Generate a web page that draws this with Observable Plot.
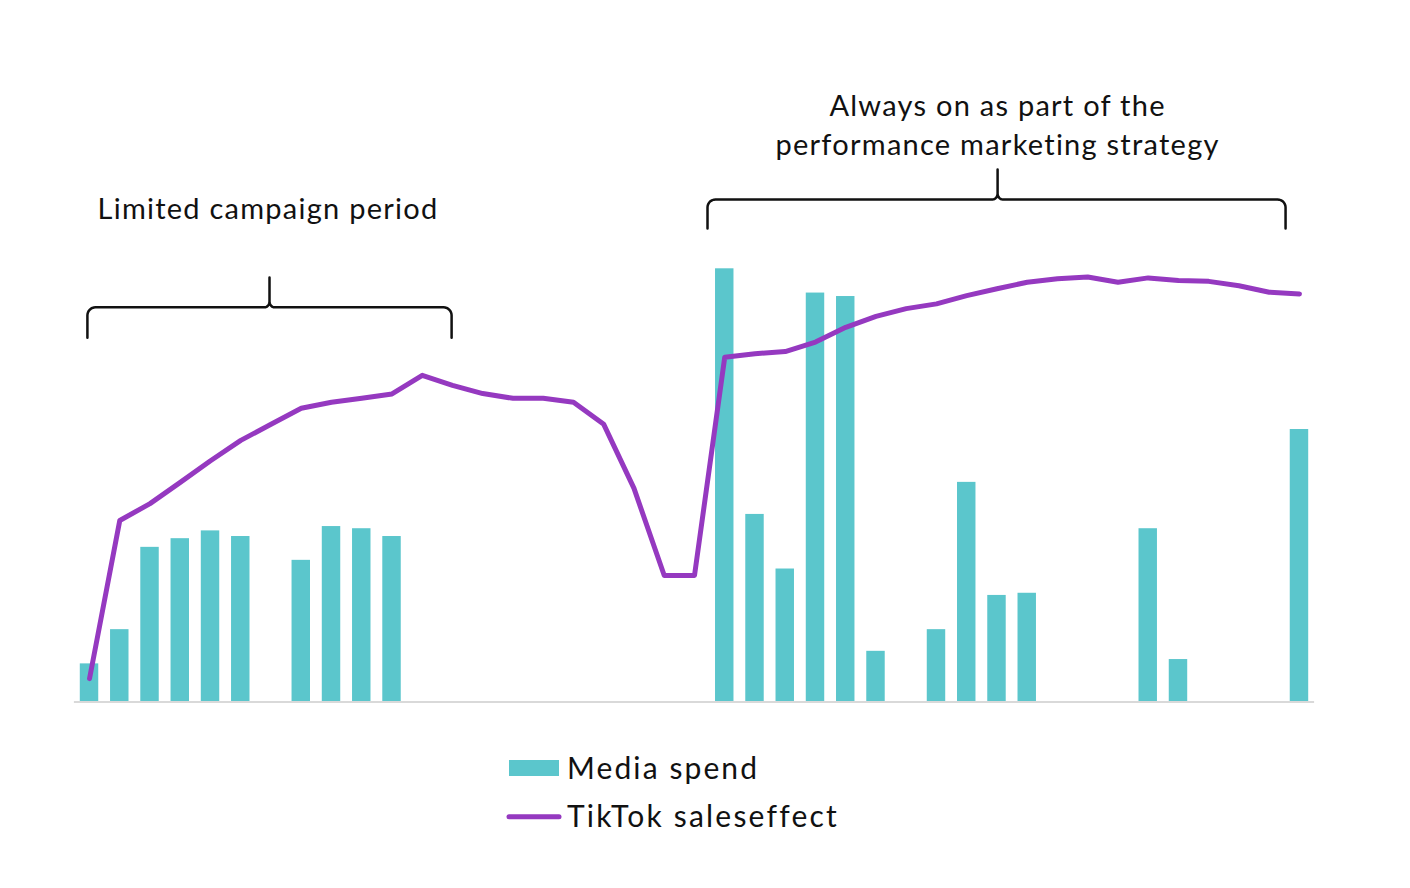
<!DOCTYPE html>
<html><head><meta charset="utf-8">
<script src="https://cdn.jsdelivr.net/npm/d3@7"></script>
<script src="https://cdn.jsdelivr.net/npm/@observablehq/plot@0.6"></script>
<style>
body{margin:0;background:#fff;font-family:Lato, "Open Sans", sans-serif;}
#wrap{position:relative;width:1410px;height:888px;overflow:hidden;}
#chart{position:absolute;left:0;top:0;}
#legend{position:absolute;left:0;top:740px;}
</style></head><body>
<div id="wrap"><div id="chart"></div><div id="legend"></div></div>
<script>
// ---- data (arbitrary units, tallest bar = 100) ----
const periods = d3.range(41);
const mediaSpend = [
  8.8, 16.7, 35.7, 37.7, 39.5, 38.2, 0, 32.7, 40.5, 40.0, 38.2,
  0, 0, 0, 0, 0, 0, 0, 0, 0, 0,
  100, 43.3, 30.7, 94.4, 93.6, 11.7, 0, 16.7, 50.7, 24.6, 25.1,
  0, 0, 0, 40.0, 9.8, 0, 0, 0, 62.9
];
const salesEffect = [
  5.4, 41.9, 45.8, 50.7, 55.7, 60.4, 64.1, 67.8, 69.2, 70.1, 71.1,
  75.4, 73.1, 71.2, 70.1, 70.1, 69.2, 64.1, 49.3, 29.2, 29.2,
  79.6, 80.4, 80.9, 83.1, 86.5, 89.0, 90.8, 91.9, 93.8, 95.4, 96.9,
  97.7, 98.1, 96.9, 97.9, 97.3, 97.1, 96.1, 94.6, 94.2
];
const seriesNames = ["Media spend", "TikTok saleseffect"];
// annotations: bracket spans in period units, labels
const bracketStart = [-0.07, 20.43];
const bracketEnd = [11.97, 39.54];
const bracketMid = [5.95, 30.02];
const bracketLevel = [91.1, 116.0];
const bracketTip = [84.1, 109.3];
const bracketPeak = [98.0, 122.9];
const labelLines = [["Limited campaign period"], ["Always on as part of the", "performance marketing strategy"]];
const labelX = [5.9, 30.02];
const labelY = [[113.6], [137.3], [128.5]].length ? [[113.6], [137.3, 128.5]] : [];

// ---- styles ----
const TEAL = "#5bc6cc", PURPLE = "#9539c0", FONT = "Lato, 'Open Sans', sans-serif";
const W = 1410, H = 740;
const xDomain = [-0.5, 40.5], xRange = [73.9, 1314.1];
const yDomain = [0, 160], yRange = [701.5, 701.5 - 160 * 4.332];
const kx = (xRange[1] - xRange[0]) / (xDomain[1] - xDomain[0]);
const ky = (yRange[0] - yRange[1]) / (yDomain[1] - yDomain[0]);

const bars = periods.map(i => ({i, v: mediaSpend[i]})).filter(d => d.v > 0);
const line = periods.map(i => ({i, v: salesEffect[i]}));

function arc(cx, cy, rx, ry, a0, a1, n = 8) {
  return d3.range(n + 1).map(k => {
    const a = a0 + (a1 - a0) * k / n;
    return [cx + rx * Math.cos(a), cy + ry * Math.sin(a)];
  });
}
const bracePts = [];
bracketStart.forEach((x0, b) => {
  const x1 = bracketEnd[b], xm = bracketMid[b], yH = bracketLevel[b];
  const rx = 8 / kx, ry = 8 / ky, mrx = 5 / kx, mry = 6 / ky;
  const pts = [
    [x0, bracketTip[b]],
    ...arc(x0 + rx, yH - ry, rx, ry, Math.PI, Math.PI / 2),
    ...arc(xm - mrx, yH + mry, mrx, mry, -Math.PI / 2, 0),
    [xm, bracketPeak[b]],
    ...arc(xm + mrx, yH + mry, mrx, mry, Math.PI, 3 * Math.PI / 2),
    ...arc(x1 - rx, yH - ry, rx, ry, Math.PI / 2, 0),
    [x1, bracketTip[b]]
  ];
  pts.forEach(([x, y]) => bracePts.push({b, x, y}));
});
const labels = [];
labelLines.forEach((ls, b) => ls.forEach((t, j) => labels.push({t, x: labelX[b], y: labelY[b][j]})));

const chart = Plot.plot({
  width: W, height: H,
  marginTop: 0, marginBottom: 0, marginLeft: 0, marginRight: 0,
  x: {domain: xDomain, range: xRange, axis: null},
  y: {domain: yDomain, range: yRange, axis: null},
  style: {fontFamily: FONT, background: "#fff", overflow: "visible", letterSpacing: "1.25px"},
  marks: [
    Plot.rectY(bars, {x1: d => d.i - 0.305, x2: d => d.i + 0.305, y1: 0, y2: "v", fill: TEAL}),
    Plot.ruleY([0], {x1: xDomain[0], x2: xDomain[1], stroke: "#d9d9d9", strokeWidth: 2}),
    Plot.line(line, {x: "i", y: "v", stroke: PURPLE, strokeWidth: 5, strokeLinejoin: "round", strokeLinecap: "round"}),
    Plot.line(bracePts, {x: "x", y: "y", z: "b", stroke: "#111", strokeWidth: 2.5, strokeLinejoin: "round", curve: "linear"}),
    Plot.text(labels, {x: "x", y: "y", text: "t", fontSize: 29, fill: "#111", textAnchor: "middle", lineAnchor: "middle"})
  ]
});
document.getElementById("chart").appendChild(chart);

// ---- legend (below the plot) ----
const leg = d3.select("#legend").append("svg").attr("width", W).attr("height", 148)
  .style("font-family", FONT);
leg.append("rect").attr("x", 509).attr("y", 20).attr("width", 50).attr("height", 16).attr("fill", TEAL);
leg.append("text").attr("x", 567).attr("y", 38.5).attr("font-size", 30).attr("letter-spacing", "2.1px")
  .attr("fill", "#111").text(seriesNames[0]);
leg.append("line").attr("x1", 509).attr("x2", 559).attr("y1", 76.7).attr("y2", 76.7)
  .attr("stroke", PURPLE).attr("stroke-width", 5).attr("stroke-linecap", "round");
leg.append("text").attr("x", 567).attr("y", 86.5).attr("font-size", 30).attr("letter-spacing", "2.2px")
  .attr("fill", "#111").text(seriesNames[1]);
</script>
</body></html>
